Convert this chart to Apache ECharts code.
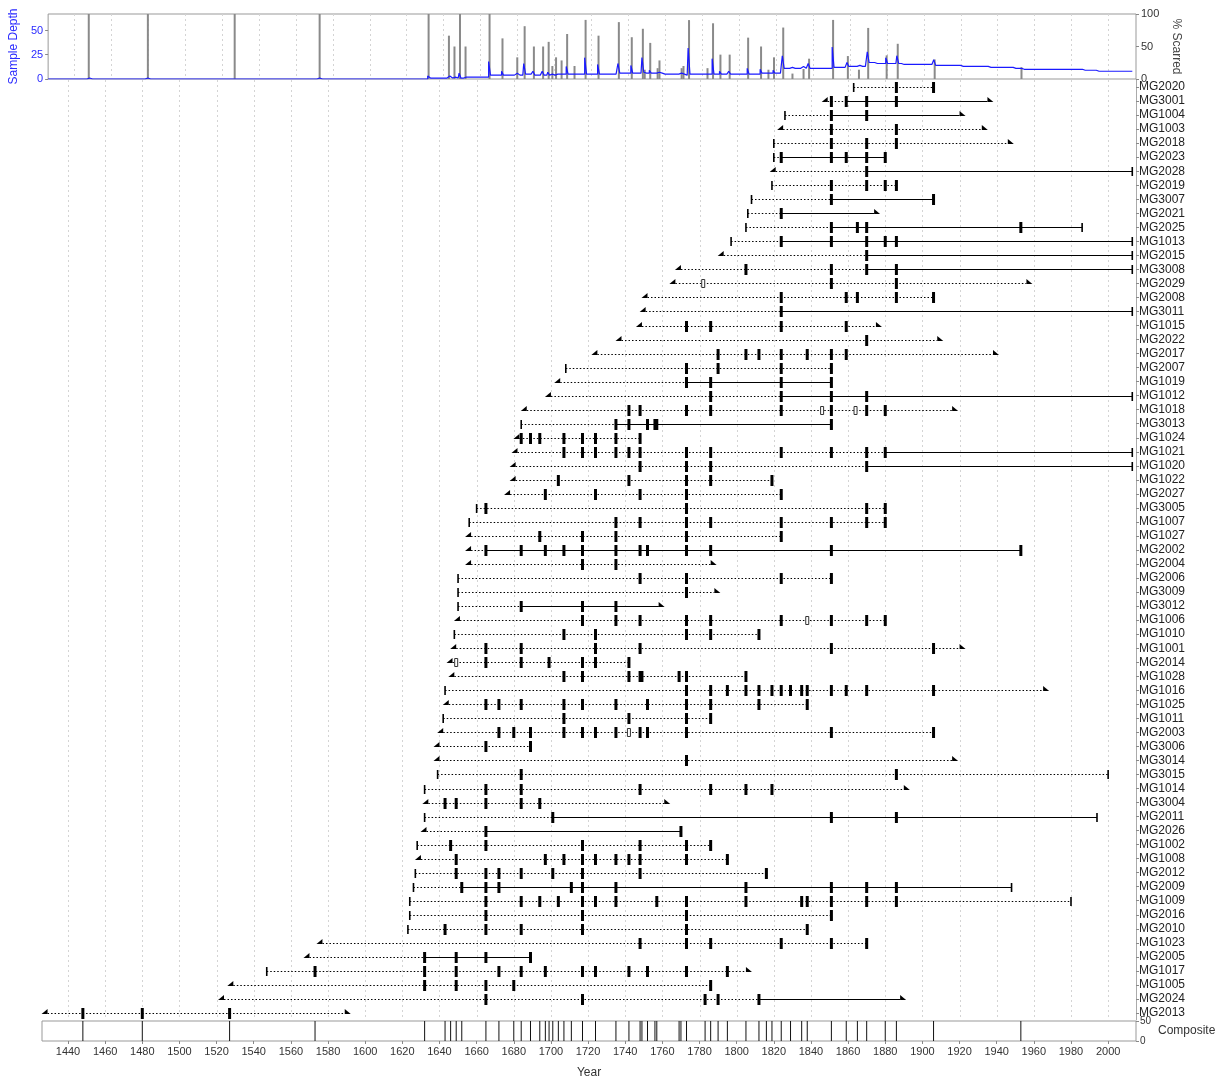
<!DOCTYPE html>
<html><head><meta charset="utf-8">
<script src="https://cdn.jsdelivr.net/npm/echarts@6/dist/echarts.min.js"></script>
<style>html,body{margin:0;padding:0;background:#fff}#c{width:1229px;height:1080px}</style>
</head><body><div id="c"></div>
<script>
// ---------------- DATA ----------------
const tickYears = [1440,1460,1480,1500,1520,1540,1560,1580,1600,1620,1640,1660,1680,1700,1720,1740,1760,1780,1800,1820,1840,1860,1880,1900,1920,1940,1960,1980,2000];
const names = ['MG2020','MG3001','MG1004','MG1003','MG2018','MG2023','MG2028','MG2019','MG3007','MG2021','MG2025','MG1013','MG2015','MG3008','MG2029','MG2008','MG3011','MG1015','MG2022','MG2017','MG2007','MG1019','MG1012','MG1018','MG3013','MG1024','MG1021','MG1020','MG1022','MG2027','MG3005','MG1007','MG1027','MG2002','MG2004','MG2006','MG3009','MG3012','MG1006','MG1010','MG1001','MG2014','MG1028','MG1016','MG1025','MG1011','MG2003','MG3006','MG3014','MG3015','MG1014','MG3004','MG2011','MG2026','MG1002','MG1008','MG2012','MG2009','MG1009','MG2016','MG2010','MG1023','MG2005','MG1017','MG1005','MG2024','MG2013'];
// first year and its kind: P = pith, I = inner ring
const innerYears = [1863,1849,1826,1825,1820,1820,1821,1819,1808,1806,1805,1797,1793,1770,1767,1752,1751,1749,1738,1725,1708,1705,1700,1687,1684,1683,1682,1681,1681,1678,1660,1656,1657,1657,1657,1650,1650,1650,1651,1648,1649,1647,1648,1643,1645,1642,1642,1640,1640,1639,1632,1634,1632,1633,1628,1630,1627,1626,1624,1624,1623,1577,1570,1547,1529,1524,1429];
const innerTypes = ['P','I','P','I','P','P','I','P','P','P','P','P','I','I','I','I','I','I','I','I','P','I','I','I','P','I','I','I','I','I','P','P','I','I','I','P','P','P','I','P','I','I','I','P','I','P','I','I','I','P','P','I','P','I','P','I','P','P','P','P','P','I','I','P','I','I','I'];
// last year and its kind: B = bark, O = outer ring
const outerYears = [1906,1935,1920,1932,1946,1880,2013,1886,1906,1874,1986,2013,2013,2013,1956,1906,2013,1875,1908,1938,1851,1851,2013,1916,1851,1748,2013,2013,1819,1824,1880,1880,1824,1953,1786,1851,1788,1758,1880,1812,1920,1742,1805,1965,1838,1786,1906,1689,1916,2000,1890,1761,1994,1770,1786,1795,1816,1948,1980,1851,1838,1870,1689,1805,1786,1888,1589];
const outerTypes = ['B','O','O','O','O','B','B','B','B','O','B','B','B','B','O','B','B','O','O','O','B','B','B','O','B','B','B','B','B','B','B','B','B','B','O','B','O','O','B','B','O','B','B','O','B','B','B','B','O','B','O','O','B','B','B','B','B','B','B','B','B','B','B','O','B','O','O'];
const fireScars = [
 [1886,1906],[1851,1859,1870,1886],[1851,1870],[1851,1886],[1851,1870,1886],
 [1824,1851,1859,1870,1880],[1870],[1851,1870,1880,1886],[1851,1906],[1824],
 [1851,1865,1870,1953],[1824,1851,1870,1880,1886],[1870],[1805,1851,1870,1886],[1851,1886],
 [1824,1859,1865,1886,1906],[1824],[1773,1786,1824,1859],[1870],[1790,1805,1812,1824,1838,1851,1859],
 [1773,1790,1824,1851],[1773,1786,1824,1851],[1786,1824,1851,1870],[1742,1748,1773,1786,1824,1851,1870,1880],[1735,1742,1752,1756,1757,1851],
 [1684,1689,1694,1707,1717,1724,1735,1748],[1707,1717,1724,1735,1742,1748,1773,1786,1824,1851,1870,1880],[1748,1773,1786,1870],[1704,1742,1773,1786,1819],[1697,1724,1748,1773,1824],
 [1665,1773,1870,1880],[1735,1748,1773,1786,1824,1851,1870,1880],[1694,1717,1735,1773,1824],[1665,1684,1697,1707,1717,1735,1748,1752,1773,1786,1851,1953],[1717,1735],
 [1748,1773,1824,1851],[1773],[1684,1717,1735],[1717,1735,1748,1773,1786,1824,1851,1870,1880],[1707,1724,1773,1786,1812],
 [1665,1684,1724,1748,1851,1906],[1665,1684,1699,1717,1724,1742],[1707,1717,1742,1748,1749,1769,1773,1805],[1773,1786,1795,1805,1812,1819,1824,1829,1835,1838,1851,1859,1870,1906],[1665,1672,1684,1707,1717,1735,1752,1773,1786,1812,1838],
 [1707,1742,1773,1786],[1672,1680,1689,1707,1717,1724,1735,1748,1752,1773,1851,1906],[1665,1689],[1773],[1684,1886],
 [1665,1684,1748,1786,1805,1819],[1643,1649,1665,1684,1694],[1701,1851,1886],[1665,1770],[1646,1665,1717,1748,1773,1786],
 [1649,1697,1707,1717,1724,1735,1742,1748,1773,1795],[1649,1665,1672,1684,1701,1717,1748,1816],[1652,1665,1672,1711,1717,1735,1805,1851,1870,1886],[1665,1684,1694,1704,1717,1724,1735,1757,1773,1805,1835,1838,1851,1870,1886],[1665,1717,1773,1851],
 [1643,1665,1684,1717,1773,1838],[1748,1773,1786,1824,1851,1870],[1632,1649,1665,1689],[1573,1632,1649,1672,1684,1697,1717,1724,1742,1752,1773,1795],[1632,1649,1665,1680,1786],
 [1665,1717,1783,1790,1812],[1448,1480,1527]
];
const injuries = {'MG2029':[1782],'MG1018':[1846,1864],'MG1006':[1838],'MG2014':[1649],'MG2003':[1742]};
// recorder (solid line) periods
const recorderPeriods = {
 'MG3001':[1859,1935],'MG1004':[1851,1920],'MG2023':[1824,1880],'MG2028':[1870,2013],'MG3007':[1851,1906],
 'MG2021':[1824,1874],'MG2025':[1851,1986],'MG1013':[1824,2013],'MG2015':[1870,2013],'MG3008':[1870,2013],
 'MG3011':[1824,2013],'MG1019':[1773,1851],'MG1012':[1824,2013],'MG3013':[1735,1851],'MG1021':[1880,2013],
 'MG1020':[1870,2013],'MG2002':[1665,1953],'MG3012':[1684,1758],'MG2011':[1701,1994],'MG2026':[1665,1770],
 'MG2009':[1652,1948],'MG2005':[1632,1689],'MG2024':[1812,1888]
};
const compositeYears = [1448,1480,1527,1573,1632,1643,1646,1649,1652,1665,1672,1680,1684,1689,1694,1697,1699,1701,1704,1707,1711,1717,1724,1735,1742,1748,1749,1752,1756,1757,1769,1770,1773,1783,1786,1790,1795,1805,1812,1816,1819,1824,1829,1835,1838,1851,1859,1865,1870,1880,1886,1906,1953];

// ------------- derived (sample depth, % scarred) -------------
const X_MIN = 1426, X_MAX = 2015, LAST = 2013;
const depthData = [], pctData = [];
for (let y = X_MIN; y <= LAST; y++) {
  let d = 0, s = 0;
  names.forEach((n, i) => {
    const rp = recorderPeriods[n];
    const scar = fireScars[i].indexOf(y) >= 0;
    if (scar) s++;
    if (scar || (rp && y >= rp[0] && y <= rp[1])) d++;
  });
  depthData.push([y, d]);
  if (s > 0) pctData.push([y, s / d * 100]);
}

const FONT = "'Liberation Sans', Arial, sans-serif";
const chart = echarts.init(document.getElementById('c'), null, {renderer: 'canvas'});

function gridLines(params, api) {
  const cs = params.coordSys;
  const x = Math.round(api.coord([api.value(0), 0])[0]) + 0.5;
  return {type: 'line', shape: {x1: x, y1: cs.y, x2: x, y2: cs.y + cs.height},
    style: {stroke: '#d4d4d4', lineWidth: 1, lineDash: [2, 3]}, silent: true};
}

function renderTree(params, api) {
  const i = api.value(1);
  const n = names[i];
  const y = Math.round(api.coord([X_MIN, i])[1]) + 0.5;
  const X = yr => api.coord([yr, i])[0];
  const ch = [];
  const xi = X(innerYears[i]), xo = X(outerYears[i]);
  ch.push({type: 'line', shape: {x1: xi, y1: y, x2: xo, y2: y}, style: {stroke: '#000', lineWidth: 1, lineDash: [1.5, 2]}});
  const rp = recorderPeriods[n];
  if (rp) ch.push({type: 'line', shape: {x1: X(rp[0]), y1: y, x2: X(rp[1]), y2: y}, style: {stroke: '#000', lineWidth: 1.2}});
  if (innerTypes[i] === 'P') {
    ch.push({type: 'line', shape: {x1: xi, y1: y - 4.5, x2: xi, y2: y + 4.5}, style: {stroke: '#000', lineWidth: 1.6}});
  } else {
    ch.push({type: 'polygon', shape: {points: [[xi, y - 4.5], [xi, y + 0.5], [xi - 6, y + 0.5]]}, style: {fill: '#000'}});
  }
  if (outerTypes[i] === 'B') {
    ch.push({type: 'line', shape: {x1: xo, y1: y - 4.5, x2: xo, y2: y + 4.5}, style: {stroke: '#000', lineWidth: 1.6}});
  } else {
    ch.push({type: 'polygon', shape: {points: [[xo, y - 4.5], [xo, y + 0.5], [xo + 6, y + 0.5]]}, style: {fill: '#000'}});
  }
  (injuries[n] || []).forEach(yr => {
    const x = X(yr);
    ch.push({type: 'rect', shape: {x: x - 1.5, y: y - 4, width: 3, height: 8}, style: {fill: '#fff', stroke: '#333', lineWidth: 1}});
  });
  fireScars[i].forEach(yr => {
    const x = X(yr);
    ch.push({type: 'rect', shape: {x: x - 1.5, y: y - 5.5, width: 3, height: 11}, style: {fill: '#000'}});
  });
  return {type: 'group', children: ch};
}

const hiddenX = (gi) => ({type: 'value', gridIndex: gi, min: X_MIN, max: X_MAX,
  axisLine: {show: false}, axisTick: {show: false}, axisLabel: {show: false}, splitLine: {show: false}});

const option = {
  animation: false,
  backgroundColor: '#fff',
  textStyle: {fontFamily: FONT},
  grid: [
    {left: 42, top: 14, width: 1094, height: 65, show: true, borderColor: '#999', borderWidth: 1, backgroundColor: 'transparent'},
    {left: 42, top: 80, width: 1094, height: 940, show: false},
    {left: 42, top: 1021, width: 1094, height: 25, show: true, borderColor: '#999', borderWidth: 1, backgroundColor: 'transparent'}
  ],
  xAxis: [
    hiddenX(0), hiddenX(1),
    {type: 'value', gridIndex: 2, min: X_MIN, max: X_MAX,
     axisLine: {show: false}, splitLine: {show: false},
     axisTick: {show: true, customValues: tickYears, length: 3, lineStyle: {color: '#888'}},
     axisLabel: {customValues: tickYears, formatter: v => String(v), fontSize: 11, color: '#333', margin: 5, fontFamily: FONT},
     name: 'Year', nameLocation: 'middle', nameGap: 26, nameTextStyle: {fontSize: 12, color: '#333', fontFamily: FONT}}
  ],
  yAxis: [
    {type: 'value', gridIndex: 0, position: 'left', min: 0, max: names.length,
     axisLine: {show: false}, splitLine: {show: false},
     axisTick: {show: true, customValues: [0, 25, 50], length: 3, lineStyle: {color: '#888'}},
     axisLabel: {customValues: [0, 25, 50], fontSize: 11, color: '#2a2aff', margin: 5, fontFamily: FONT},
     name: 'Sample Depth', nameLocation: 'middle', nameRotate: 90, nameGap: 24,
     nameTextStyle: {fontSize: 12, color: '#2a2aff', fontFamily: FONT}},
    {type: 'value', gridIndex: 0, position: 'right', min: 0, max: 100, interval: 50,
     axisLine: {show: false}, splitLine: {show: false},
     axisTick: {show: true, length: 3, lineStyle: {color: '#888'}},
     axisLabel: {fontSize: 11, color: '#333', margin: 5, fontFamily: FONT},
     name: '% Scarred', nameLocation: 'middle', nameRotate: -90, nameGap: 30,
     nameTextStyle: {fontSize: 12, color: '#444', fontFamily: FONT}},
    {type: 'category', gridIndex: 1, position: 'right', data: names, inverse: true,
     axisLine: {show: true, lineStyle: {color: '#aaa'}},
     axisTick: {show: true, alignWithLabel: true, length: 3, lineStyle: {color: '#888'}},
     axisLabel: {fontSize: 12, color: '#222', margin: 3, interval: 0, fontFamily: FONT},
     splitLine: {show: false}},
    {type: 'value', gridIndex: 2, position: 'right', min: 0, max: 50, interval: 50,
     axisLine: {show: false}, splitLine: {show: false},
     axisTick: {show: true, length: 3, lineStyle: {color: '#888'}},
     axisLabel: {fontSize: 10, color: '#333', margin: 4, fontFamily: FONT},
     name: 'Composite', nameLocation: 'middle', nameRotate: 0, nameGap: 22,
     nameTextStyle: {fontSize: 12, color: '#333', fontFamily: FONT, align: 'left'}}
  ],
  series: [
    {type: 'custom', xAxisIndex: 0, yAxisIndex: 0, data: tickYears.map(v => [v]), encode: {x: 0}, renderItem: gridLines, silent: true, z: 1},
    {type: 'custom', xAxisIndex: 1, yAxisIndex: 2, data: tickYears.map(v => [v]), encode: {x: 0}, renderItem: gridLines, silent: true, z: 1},
    {type: 'bar', xAxisIndex: 0, yAxisIndex: 1, data: pctData, barWidth: 2, itemStyle: {color: '#8a8a8a'}, silent: true, z: 2},
    {type: 'line', xAxisIndex: 0, yAxisIndex: 0, data: depthData, step: 'middle', symbol: 'none',
     lineStyle: {color: '#1a1aff', width: 1.2}, silent: true, z: 3},
    {type: 'custom', xAxisIndex: 1, yAxisIndex: 2, data: names.map((n, i) => [innerYears[i], i]),
     encode: {x: 0, y: 1}, renderItem: renderTree, silent: true, z: 4},
    {type: 'bar', xAxisIndex: 2, yAxisIndex: 3, data: compositeYears.map(v => [v, 50]), barWidth: 1,
     itemStyle: {color: '#111'}, silent: true, z: 3}
  ]
};
chart.setOption(option);
</script></body></html>
